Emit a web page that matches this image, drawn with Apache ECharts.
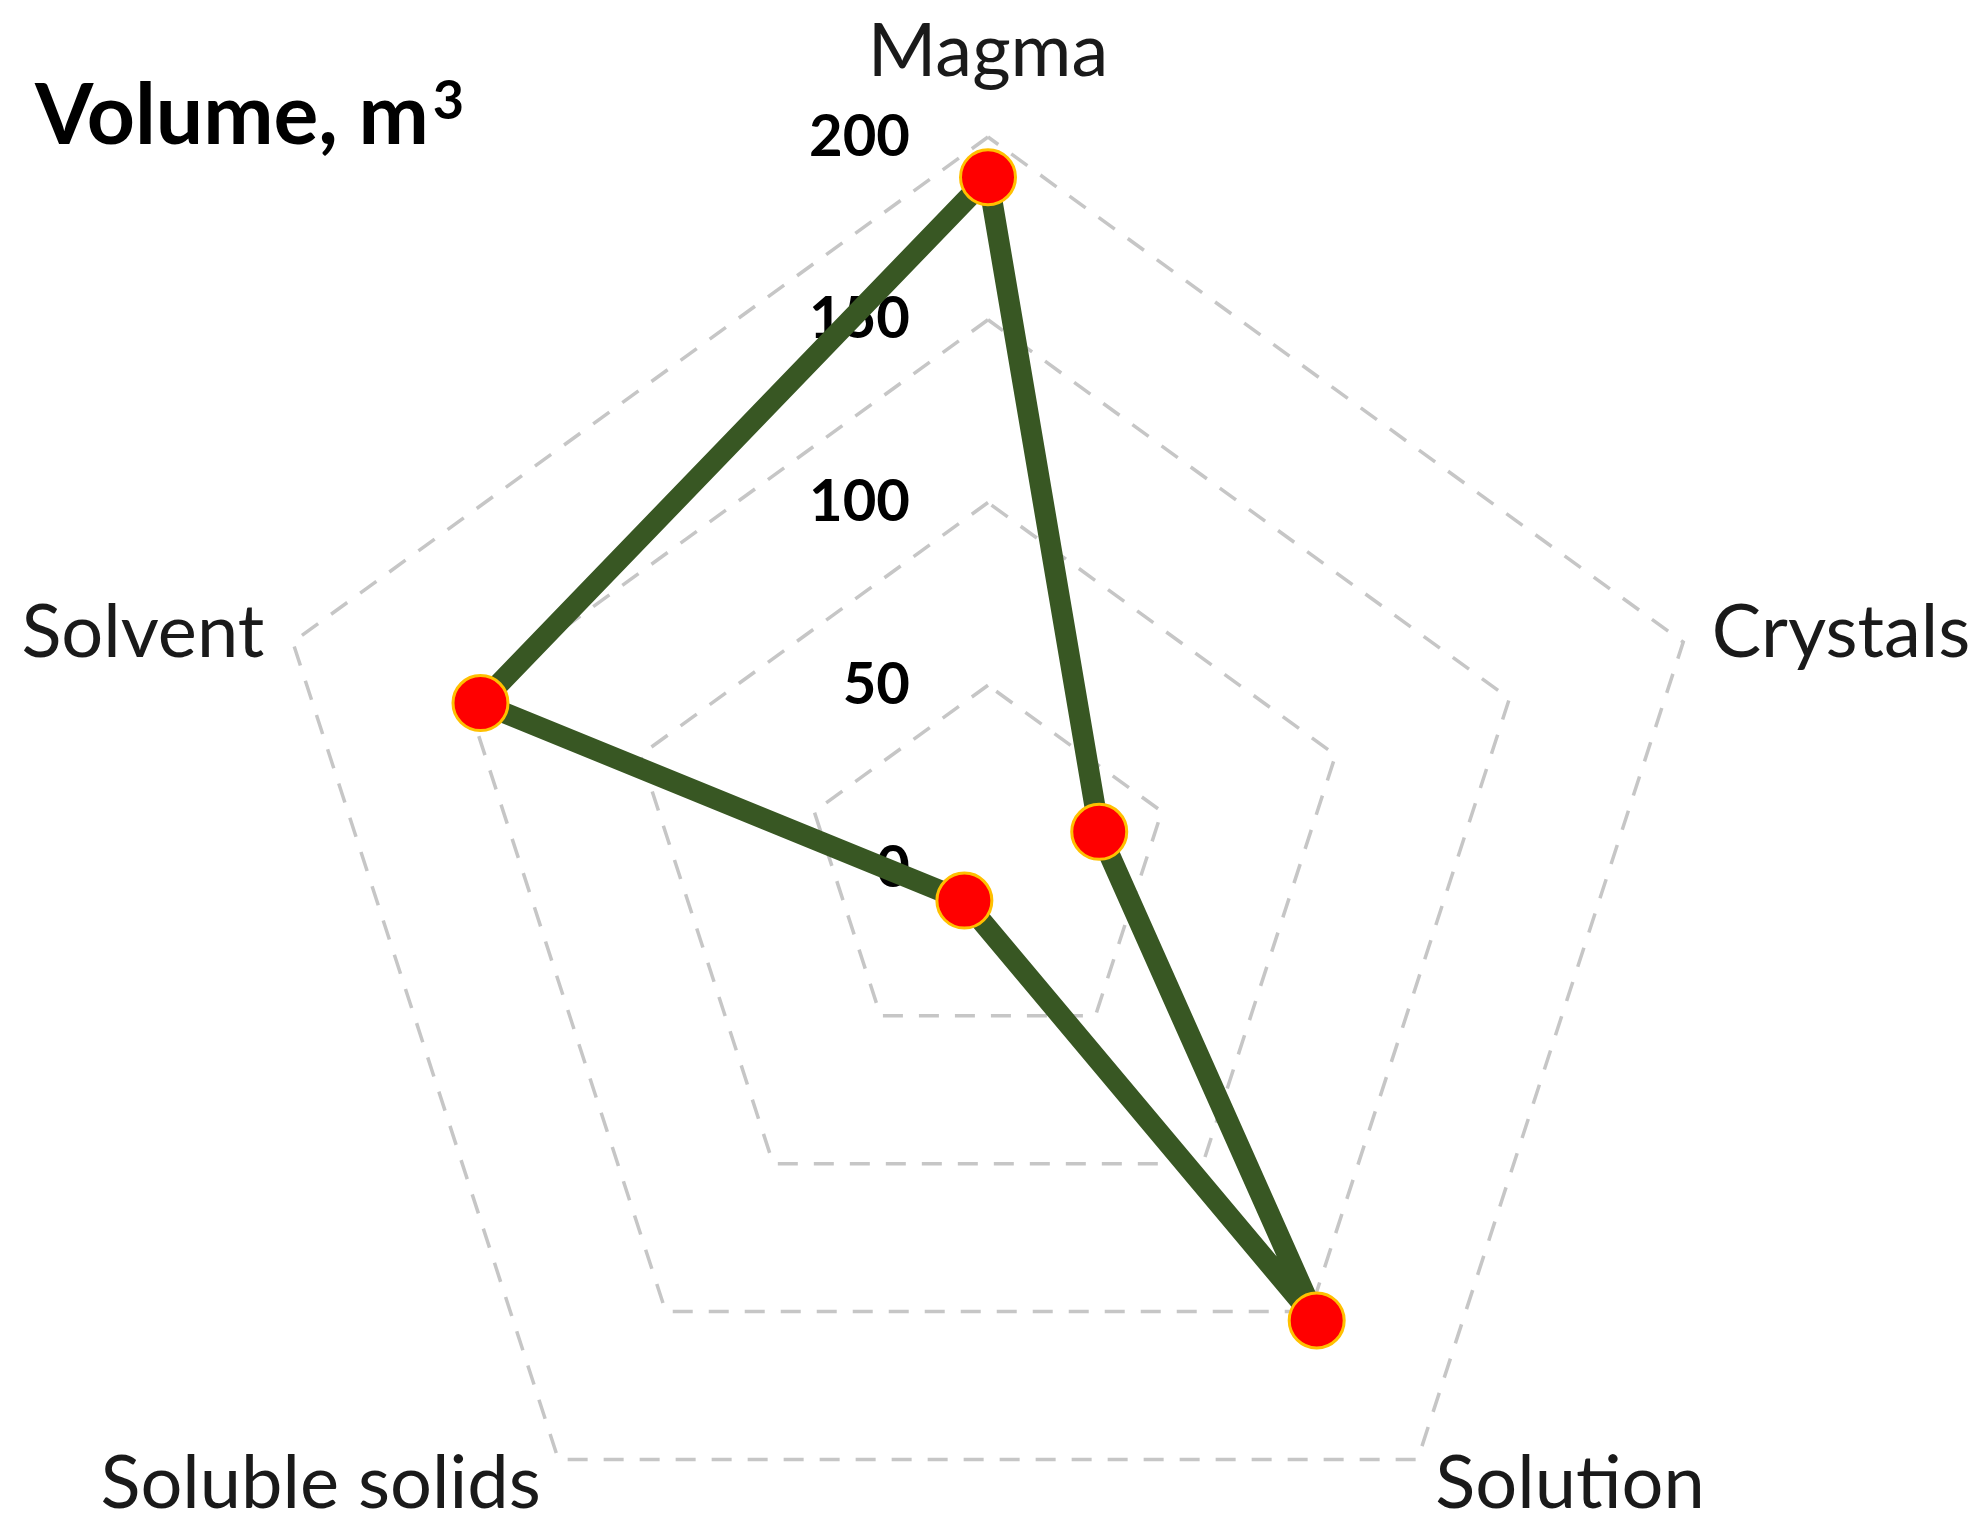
<!DOCTYPE html>
<html>
<head>
<meta charset="utf-8">
<script src="https://cdn.jsdelivr.net/npm/echarts@6/dist/echarts.min.js"></script>
<style>
html,body{margin:0;padding:0;background:#fff;}
#chart{width:1983px;height:1525px;}
</style>
</head>
<body>
<div id="chart"></div>
<script>
// Indicators in counter-clockwise order starting from the top (ECharts radar order)
const categories = ['Magma', 'Solvent', 'Soluble solids', 'Solution', 'Crystals'];
const volumes = [189, 146, 11, 153, 32];
const axisMax = 200;
const tickLabels = ['0', '50', '100', '150', '200'];
const titleMain = 'Volume, m';
const titleSup = '3';

const chart = echarts.init(document.getElementById('chart'));
const FONT = 'Lato';

const indicator = categories.map(function (name, i) {
  const ind = { name: name, min: 0, max: axisMax };
  if (i === 0) {
    ind.axisLabel = {
      show: true,
      showMinLabel: true,
      showMaxLabel: true,
      margin: 78,
      fontFamily: FONT,
      fontWeight: 'bold',
      fontSize: 58,
      color: '#000',
      formatter: function (v) { return tickLabels[Math.round(v / 50)] || ''; }
    };
  }
  return ind;
});

chart.setOption({
  backgroundColor: '#ffffff',
  animation: false,
  title: {
    text: '{main|' + titleMain + '}{sup|' + titleSup + '}',
    left: 30,
    top: 70,
    textStyle: {
      rich: {
        main: { fontFamily: FONT, fontWeight: 'bold', fontSize: 84, color: '#000', verticalAlign: 'bottom' },
        sup: { fontFamily: FONT, fontWeight: 'bold', fontSize: 54, color: '#000', verticalAlign: 'top', padding: [0, 0, 0, 4] }
      }
    }
  },
  radar: {
    center: [988, 868],
    radius: 731,
    shape: 'polygon',
    splitNumber: 4,
    startAngle: 90,
    indicator: indicator,
    nameGap: 30,
    axisName: {
      fontFamily: FONT,
      fontSize: 74,
      color: '#1a1a1a',
      formatter: function (name) {
        return name === 'Magma' ? '{top|' + name + '}' : name;
      },
      rich: {
        top: { fontFamily: FONT, fontSize: 74, color: '#1a1a1a', padding: [0, 0, 18, 0] }
      }
    },
    axisLine: { show: false },
    axisTick: { show: false },
    axisLabel: { show: false },
    splitArea: { show: false },
    splitLine: {
      lineStyle: { color: '#c6c6c6', width: 3.5, type: [20, 16] }
    }
  },
  series: [{
    type: 'radar',
    symbol: 'circle',
    symbolSize: 55,
    lineStyle: { color: '#385723', width: 21 },
    itemStyle: { color: '#ff0000', borderColor: '#ffc000', borderWidth: 3 },
    data: [{ value: volumes, name: 'Volume' }]
  }]
});
</script>
</body>
</html>
